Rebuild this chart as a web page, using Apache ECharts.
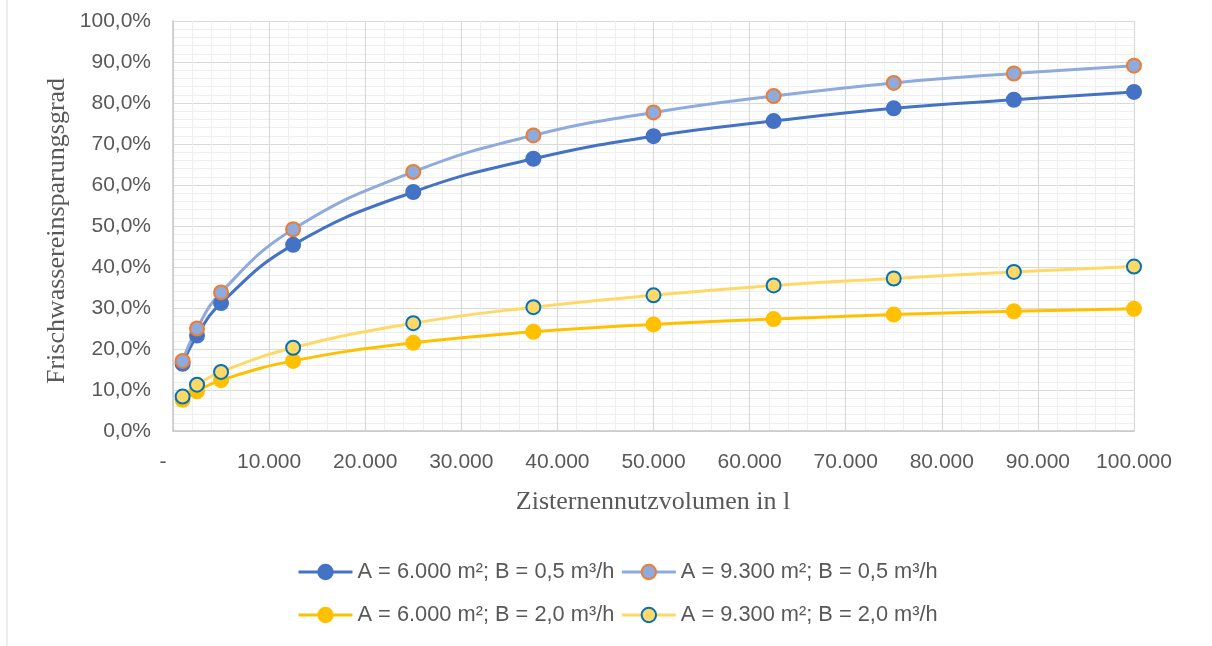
<!DOCTYPE html>
<html>
<head>
<meta charset="utf-8">
<script src="https://cdn.jsdelivr.net/npm/echarts@6/dist/echarts.min.js"></script>
<style>
  html, body { margin: 0; padding: 0; background: #ffffff; }
  #chart { width: 1212px; height: 646px; }
</style>
</head>
<body>
<div id="chart"></div>
<script>
// Usable cistern volume in litres
const volumes = [1000, 2500, 5000, 12500, 25000, 37500, 50000, 62500, 75000, 87500, 100000];

// Fresh water saving rate in percent
const a6000b05 = [16.4, 23.3, 31.2, 45.4, 58.3, 66.4, 71.9, 75.6, 78.7, 80.8, 82.7];
const a9300b05 = [17.1, 25.0, 33.8, 49.2, 63.2, 72.1, 77.7, 81.7, 84.9, 87.2, 89.1];
const a6000b20 = [7.6, 9.7, 12.4, 17.1, 21.5, 24.2, 26.0, 27.3, 28.4, 29.2, 29.8];
const a9300b20 = [8.4, 11.3, 14.4, 20.3, 26.3, 30.2, 33.1, 35.5, 37.2, 38.8, 40.1];

const seriesNames = [
  'A = 6.000 m²; B = 0,5 m³/h',
  'A = 9.300 m²; B = 0,5 m³/h',
  'A = 6.000 m²; B = 2,0 m³/h',
  'A = 9.300 m²; B = 2,0 m³/h'
];

const xTitle = 'Zisternennutzvolumen in l';
const yTitle = 'Frischwassereinsparungsgrad';

const pairs = ys => volumes.map((v, i) => [v, ys[i]]);
const sans = 'Liberation Sans, Arial, sans-serif';
const serif = 'Liberation Serif, Times New Roman, serif';
const textGrey = '#595959';

function thousands(v) {
  return String(v).replace(/\B(?=(\d{3})+(?!\d))/g, '.');
}

function lineSeries(name, ys, lineColor, fill, border) {
  return {
    name: name,
    type: 'line',
    data: pairs(ys),
    smooth: 0.45,
    symbol: 'circle',
    symbolSize: 14,
    lineStyle: { color: lineColor, width: 3 },
    itemStyle: { color: fill, borderColor: border, borderWidth: 2 },
    emphasis: { disabled: true }
  };
}

const legendBase = {
  left: 292,
  itemWidth: 54,
  itemHeight: 18,
  itemGap: 6,
  lineStyle: { width: 3 },
  textStyle: { fontFamily: sans, fontSize: 21.8, color: textGrey },
  selectedMode: false
};

const chart = echarts.init(document.getElementById('chart'), null, { renderer: 'canvas' });

chart.setOption({
  animation: false,
  backgroundColor: '#ffffff',
  grid: { left: 173, right: 78, top: 21, bottom: 215, containLabel: false },
  legend: [
    Object.assign({}, legendBase, { top: 556, data: [seriesNames[0], seriesNames[1]] }),
    Object.assign({}, legendBase, { top: 599, data: [seriesNames[2], seriesNames[3]] })
  ],
  xAxis: {
    type: 'value',
    min: 0,
    max: 100000,
    interval: 10000,
    axisLine: { show: true, lineStyle: { color: '#C8C8C8', width: 1.5 } },
    axisTick: { show: false },
    splitLine: { show: true, lineStyle: { color: '#D9D9D9', width: 1.2 } },
    minorTick: { show: false, splitNumber: 5 },
    minorSplitLine: { show: true, lineStyle: { color: '#EFEFEF', width: 1 } },
    axisLabel: {
      margin: 21,
      fontFamily: sans,
      fontSize: 21,
      color: textGrey,
      formatter: v => v === 0 ? '{d|-}' : thousands(v),
      rich: { d: { fontFamily: sans, fontSize: 21, color: textGrey, padding: [0, 20, 0, 0] } }
    }
  },
  yAxis: {
    type: 'value',
    min: 0,
    max: 100,
    interval: 10,
    axisLine: { show: true, lineStyle: { color: '#C8C8C8', width: 1.5 } },
    axisTick: { show: false },
    splitLine: { show: true, lineStyle: { color: '#D9D9D9', width: 1.2 } },
    minorTick: { show: false, splitNumber: 5 },
    minorSplitLine: { show: true, lineStyle: { color: '#EFEFEF', width: 1 } },
    axisLabel: {
      margin: 22,
      fontFamily: sans,
      fontSize: 21,
      color: textGrey,
      formatter: v => v.toFixed(1).replace('.', ',') + '%'
    }
  },
  graphic: [
    {
      type: 'line',
      silent: true,
      shape: { x1: 7, y1: 0, x2: 7, y2: 646 },
      style: { stroke: '#D9D9D9', lineWidth: 1 }
    },
    {
      type: 'text',
      silent: true,
      x: 653,
      y: 502,
      style: {
        text: xTitle,
        font: '26px ' + serif,
        fill: textGrey,
        align: 'center',
        verticalAlign: 'middle'
      }
    },
    {
      type: 'text',
      silent: true,
      x: 57,
      y: 231,
      rotation: Math.PI / 2,
      style: {
        text: yTitle,
        font: '26px ' + serif,
        fill: textGrey,
        align: 'center',
        verticalAlign: 'middle'
      }
    }
  ],
  series: [
    lineSeries(seriesNames[0], a6000b05, '#4472C4', '#4472C4', '#4472C4'),
    lineSeries(seriesNames[1], a9300b05, '#8FAADC', '#8FAADC', '#ED7D31'),
    lineSeries(seriesNames[2], a6000b20, '#FFC000', '#FFC000', '#FFC000'),
    lineSeries(seriesNames[3], a9300b20, '#FFD966', '#FFD966', '#0070C0')
  ]
});
</script>
</body>
</html>
